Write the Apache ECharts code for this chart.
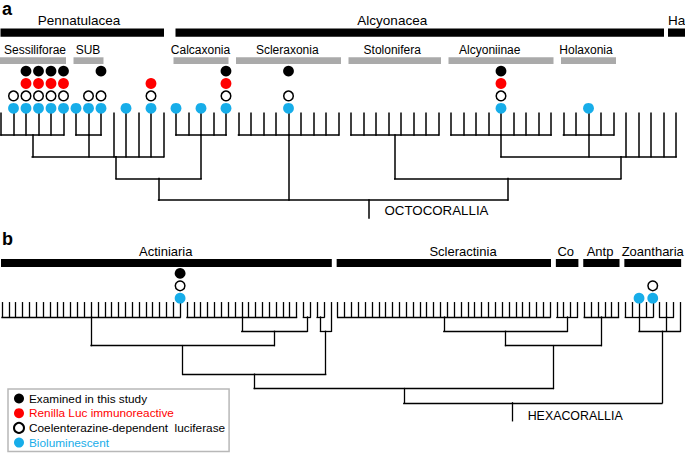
<!DOCTYPE html>
<html><head><meta charset="utf-8">
<script src="https://cdn.jsdelivr.net/npm/echarts@6/dist/echarts.min.js"></script>
<style>html,body{margin:0;padding:0;background:#fff}#c{width:685px;height:453px}</style>
</head><body><div id="c"></div>
<script>
// ================= DATA =================
// Trees: "(...)h" = clade whose node sits at height h (levels above the leaf tips);
// a bare number n inside a clade = n terminal leaves attached directly to that node.
const octoTree = "((((6)1,(3)1,5)2,(5)1)3,(9)1,((8)1,((9)1,(5)1,5)2)3)4";
const octoRootAt = 29.4;            // leaf-index position of the OCTOCORALLIA stem
const hexaTree = "(((((27)1,((17)1,(2)1)2)3,((2)1,1)2)5,(((32)1,(4)1)2,(6)1)3)6,((5)1,(3)1,1)2)7";
const hexaRootAt = 74.55;           // leaf-index position of the HEXACORALLIA stem

// Clade bars (leaf-index ranges) and label centres (leaf index)
const octoClades = ["Pennatulacea", "Alcyonacea", "Ha"];
const octoCladeFrom = [0, 14, 53.4];
const octoCladeTo = [13, 53, 58];
const octoCladeLabelAt = [6.24, 31.3, 54.05];

const octoGroups = ["Sessiliforae", "SUB", "Calcaxonia", "Scleraxonia", "Stolonifera", "Alcyoniinae", "Holaxonia"];
const octoGroupFrom = [0, 6, 14, 19, 28, 36, 45];
const octoGroupTo = [5, 8, 18, 27, 35, 44, 49];
const octoGroupLabelAt = [2.72, 6.96, 15.96, 22.9, 31.3, 39.1, 46.8];

const hexaClades = ["Actiniaria", "Scleractinia", "Co", "Antp", "Zoantharia"];
const hexaCladeFrom = [0, 49, 81, 85, 91];
const hexaCladeTo = [48, 80, 84, 90, 99];
const hexaCladeLabelAt = [23.9, 67.3, 82.3, 87.3, 95];

// Status markers (leaf indices)
const octoExamined = [2, 3, 4, 5, 8, 18, 23, 40];
const octoRenilla = [2, 3, 4, 5, 12, 18, 40];
const octoCoelenterazine = [1, 2, 3, 4, 5, 7, 8, 12, 18, 23, 40];
const octoBiolum = [1, 2, 3, 4, 5, 6, 7, 8, 10, 12, 14, 16, 18, 23, 40, 47];
const hexaExamined = [26];
const hexaRenilla = [];
const hexaCoelenterazine = [26, 95];
const hexaBiolum = [26, 93, 95];

const statusNames = ["Examined in this study", "Renilla Luc immunoreactive", "Coelenterazine-dependent  luciferase", "Bioluminescent"];

// ================= LAYOUT / STYLE =================
const W = 685, H = 453;
const FONT = "'Liberation Sans', Arial, Helvetica, sans-serif";
const BLUE = '#17ade9', RED = '#ff0000';
const PA = {x0: 1, dx: 12.5, y0: 113.3, dy: 21.7};
const PB = {x0: 2, dx: 6.85, y0: 302.7, dy: 14.3};

function parseTree(s) {
  let i = 0, leaf = 0;
  function num() { const j = i; while (i < s.length && /[0-9.]/.test(s[i])) i++; return parseFloat(s.slice(j, i)); }
  function node() {
    i++; const kids = [];
    while (true) {
      if (s[i] === '(') kids.push(node());
      else { const n = num(); for (let k = 0; k < n; k++) kids.push({x: leaf++, h: 0}); }
      if (s[i] === ',') { i++; continue; }
      if (s[i] === ')') { i++; break; }
    }
    const h = num();
    const x = kids.reduce((a, c) => a + c.x, 0) / kids.length;
    return {kids, h, x};
  }
  return node();
}
function segments(node, parentH, out) {
  if (parentH != null) out.push([[node.x, node.h], [node.x, parentH]]);
  if (node.kids) {
    out.push([[node.kids[0].x, node.h], [node.kids[node.kids.length - 1].x, node.h]]);
    node.kids.forEach(k => segments(k, node.h, out));
  }
  return out;
}
const octoRoot = parseTree(octoTree);
const hexaRoot = parseTree(hexaTree);
const octoSegs = segments(octoRoot, null, []);
octoSegs.push([[octoRootAt, octoRoot.h], [octoRootAt, octoRoot.h + 18 / PA.dy]]);
const hexaSegs = segments(hexaRoot, null, []);
hexaSegs.push([[hexaRootAt, hexaRoot.h], [hexaRootAt, hexaRoot.h + 18 / PB.dy]]);

function axes(P) {
  return {
    x: {type: 'value', show: false, min: -P.x0 / P.dx, max: (W - P.x0) / P.dx},
    y: {type: 'value', show: false, inverse: true, min: -P.y0 / P.dy, max: (H - P.y0) / P.dy}
  };
}
const ax = axes(PA), bx = axes(PB);

function lineSeries(idx, segs, w) {
  return {type: 'lines', coordinateSystem: 'cartesian2d', xAxisIndex: idx, yAxisIndex: idx, z: 2, silent: true,
    lineStyle: {color: '#000', width: w, opacity: 1, cap: 'square'},
    data: segs.map(s => ({coords: s}))};
}
function barSeries(idx, names, from, to, at, st) {
  return {type: 'custom', xAxisIndex: idx, yAxisIndex: idx, z: 2, silent: true,
    data: from.map((f, i) => [f, to[i], at[i]]),
    renderItem(params, api) {
      const p0 = api.coord([api.value(0), 0]);
      const p1 = api.coord([api.value(1), 0]);
      const pl = api.coord([api.value(2), 0]);
      return {type: 'group', children: [
        {type: 'rect', shape: {x: p0[0] - st.pad, y: p0[1] + st.barTop, width: p1[0] - p0[0] + 2 * st.pad, height: st.barH}, style: {fill: st.color}},
        {type: 'text', x: pl[0], y: p0[1] + st.labelY, style: {text: names[params.dataIndex], fill: '#000', fontSize: st.fs, fontFamily: FONT, align: 'center', verticalAlign: 'middle'}}
      ]};
    }};
}
function rootLabel(idx, at, h, text, fs, dxp, dyp) {
  return {type: 'custom', xAxisIndex: idx, yAxisIndex: idx, z: 2, silent: true,
    data: [[at, h]],
    renderItem(params, api) {
      const p = api.coord([api.value(0), api.value(1)]);
      return {type: 'text', x: p[0] + dxp, y: p[1] + dyp, style: {text: text, fill: '#000', fontSize: fs, fontFamily: FONT, align: 'left', verticalAlign: 'middle'}};
    }};
}
const statusStyle = [
  {color: '#000', opacity: 1},
  {color: RED, opacity: 1},
  {color: '#fff', borderColor: '#000', borderWidth: 1.5, opacity: 1},
  {color: BLUE, opacity: 1}
];
const statusSize = [10.8, 10.8, 9.6, 10.8];
// panel a: fixed rows (bottom-up: blue, open, red, black)
const rowA = [3, 2, 1, 0];
function dotSeriesA(k, leaves) {
  return {type: 'scatter', name: statusNames[k], xAxisIndex: 0, yAxisIndex: 0, z: 5, silent: true,
    symbol: 'circle', symbolSize: statusSize[k], itemStyle: statusStyle[k],
    symbolOffset: [0, -(5 + rowA[k] * 12.4)],
    data: leaves.map(l => [l, 0])};
}
// panel b: stacked rows
const hexaLists = [hexaExamined, hexaRenilla, hexaCoelenterazine, hexaBiolum];
function dotSeriesB(k) {
  return {type: 'scatter', name: statusNames[k], xAxisIndex: 1, yAxisIndex: 1, z: 5, silent: true,
    symbol: 'circle', symbolSize: statusSize[k], itemStyle: statusStyle[k],
    data: hexaLists[k].map(l => {
      let r = 0;
      for (let j = 3; j > k; j--) if (hexaLists[j].includes(l)) r++;
      return {value: [l, 0], symbolOffset: [0, -(4.5 + r * 12.4)]};
    })};
}
const octoLists = [octoExamined, octoRenilla, octoCoelenterazine, octoBiolum];

const option = {
  animation: false,
  backgroundColor: '#fff',
  grid: [
    {left: 0, top: 0, width: W, height: H},
    {left: 0, top: 0, width: W, height: H}
  ],
  xAxis: [Object.assign({gridIndex: 0}, ax.x), Object.assign({gridIndex: 1}, bx.x)],
  yAxis: [Object.assign({gridIndex: 0}, ax.y), Object.assign({gridIndex: 1}, bx.y)],
  legend: {
    orient: 'vertical', left: 8, top: 389, height: 200, width: 400, padding: [3.5, 4, 3, 5], itemGap: 2.7,
    itemWidth: 10, itemHeight: 10, icon: 'circle', selectedMode: false,
    borderColor: '#b8b8b8', borderWidth: 1.5, backgroundColor: '#fff',
    textStyle: {fontFamily: FONT, fontSize: 11.8, lineHeight: 12},
    data: [
      {name: statusNames[0], textStyle: {color: '#000'}},
      {name: statusNames[1], textStyle: {color: RED}},
      {name: statusNames[2], textStyle: {color: '#000'}},
      {name: statusNames[3], textStyle: {color: BLUE}}
    ]
  },
  graphic: [
    {type: 'text', x: 2, y: 9, style: {text: 'a', fontSize: 18, fontWeight: 'bold', fontFamily: FONT, fill: '#000', verticalAlign: 'middle'}},
    {type: 'text', x: 2, y: 239, style: {text: 'b', fontSize: 18, fontWeight: 'bold', fontFamily: FONT, fill: '#000', verticalAlign: 'middle'}}
  ],
  series: [
    lineSeries(0, octoSegs, 1.5),
    lineSeries(1, hexaSegs, 1.3),
    barSeries(0, octoClades, octoCladeFrom, octoCladeTo, octoCladeLabelAt, {pad: 0.5, barTop: -84.8, barH: 8.3, labelY: -92.8, fs: 13.5, color: '#000'}),
    barSeries(0, octoGroups, octoGroupFrom, octoGroupTo, octoGroupLabelAt, {pad: 2.5, barTop: -56, barH: 6.7, labelY: -63.3, fs: 12, color: '#aaaaaa'}),
    barSeries(1, hexaClades, hexaCladeFrom, hexaCladeTo, hexaCladeLabelAt, {pad: 1, barTop: -43.7, barH: 8, labelY: -51.7, fs: 13, color: '#000'}),
    rootLabel(0, octoRootAt, octoRoot.h, 'OCTOCORALLIA', 13.3, 16, 10.5),
    rootLabel(1, hexaRootAt, hexaRoot.h, 'HEXACORALLIA', 12.4, 15, 13.5),
    dotSeriesA(0, octoLists[0]), dotSeriesA(1, octoLists[1]), dotSeriesA(2, octoLists[2]), dotSeriesA(3, octoLists[3]),
    dotSeriesB(0), dotSeriesB(1), dotSeriesB(2), dotSeriesB(3)
  ]
};
const chart = echarts.init(document.getElementById('c'), null, {renderer: 'svg', width: W, height: H});
chart.setOption(option);
</script>
</body></html>
